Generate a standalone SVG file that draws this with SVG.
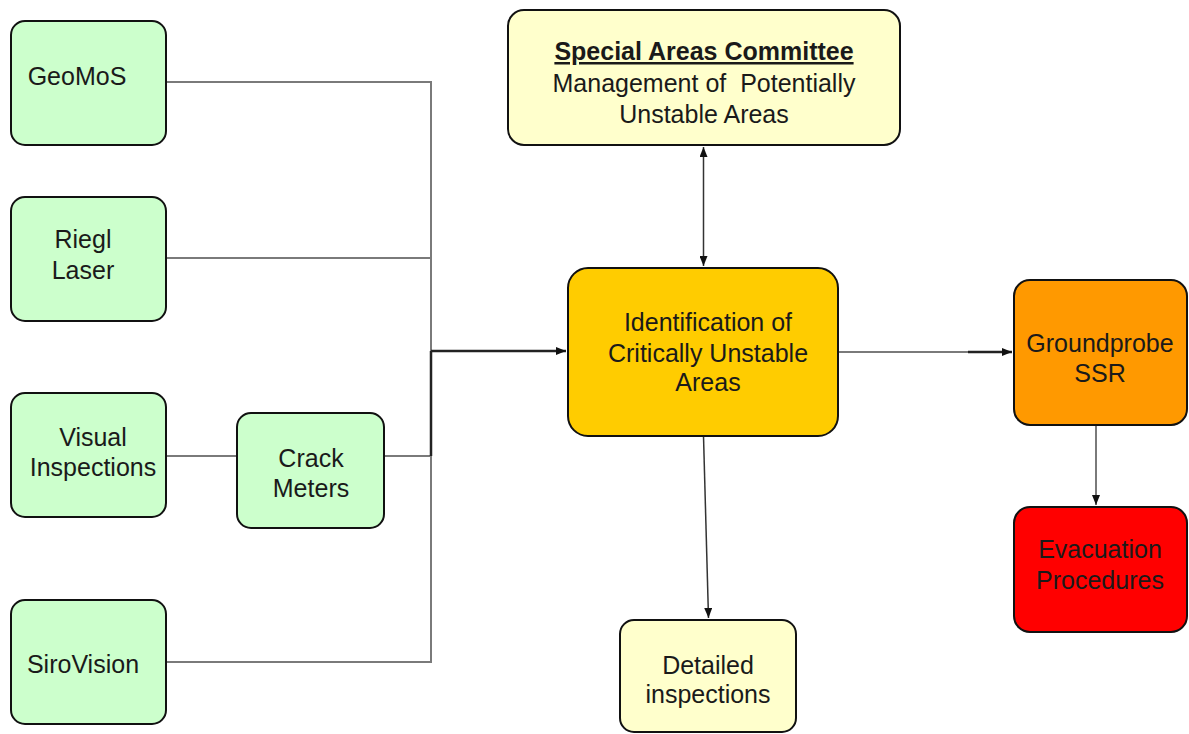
<svg xmlns="http://www.w3.org/2000/svg" width="1189" height="734" viewBox="0 0 1189 734">
<style>
  .box { stroke: #111; stroke-width: 2; }
  .green { fill: #CCFFCC; }
  .cream { fill: #FFFFCC; }
  .gold { fill: #FFCC00; }
  .orange { fill: #FF9900; }
  .red { fill: #FF0000; }
  text { font-family: "Liberation Sans", Arial, sans-serif; font-size: 25px; fill: #1a1a1a; text-anchor: middle; }
  .bold { font-weight: bold; text-decoration: underline; }
  .gray { stroke: #7a7a7a; stroke-width: 2; fill: none; }
  .dark { stroke: #222; stroke-width: 2.5; fill: none; }
  .thin { stroke: #333; stroke-width: 1.5; fill: none; }
</style>
<defs>
  <marker id="arr" viewBox="0 0 10 8" refX="10" refY="4" markerWidth="10" markerHeight="8" markerUnits="userSpaceOnUse" orient="auto-start-reverse">
    <path d="M0,0 L10,4 L0,8 z" fill="#111"/>
  </marker>
</defs>
<rect width="1189" height="734" fill="#ffffff"/>

<g id="connectors">
  <path class="gray" d="M166,82 H431 V662 H166"/>
  <path class="gray" d="M166,258 H431"/>
  <path class="gray" d="M166,456 H237"/>
  <path class="gray" d="M384,456 H431"/>
  <path class="dark" d="M431,351 V456"/>
  <path class="dark" d="M431,351 H566" marker-end="url(#arr)"/>
  <path class="thin" d="M703.5,147 V266" marker-start="url(#arr)" marker-end="url(#arr)"/>
  <path class="gray" d="M838,352 H975"/>
  <path class="dark" d="M968,352 H1012" marker-end="url(#arr)"/>
  <path class="thin" d="M703.5,436 L708.5,618" marker-end="url(#arr)"/>
  <path class="gray" d="M1096,425 V505" marker-end="url(#arr)"/>
</g>

<g id="geomos">
  <rect class="box green" x="11" y="21" width="155" height="124" rx="14"/>
  <text x="77" y="85">GeoMoS</text>
</g>
<g id="riegl">
  <rect class="box green" x="11" y="197" width="155" height="124" rx="14"/>
  <text x="83" y="248">Riegl</text>
  <text x="83" y="279">Laser</text>
</g>
<g id="visual">
  <rect class="box green" x="11" y="393" width="155" height="124" rx="14"/>
  <text x="93" y="446">Visual</text>
  <text x="93" y="476">Inspections</text>
</g>
<g id="crack">
  <rect class="box green" x="237" y="413" width="147" height="115" rx="14"/>
  <text x="311" y="467">Crack</text>
  <text x="311" y="497">Meters</text>
</g>
<g id="sirovision">
  <rect class="box green" x="11" y="600" width="155" height="124" rx="14"/>
  <text x="83" y="673">SiroVision</text>
</g>
<g id="committee">
  <rect class="box cream" x="508" y="10" width="392" height="135" rx="16"/>
  <text class="bold" x="704" y="60">Special Areas Committee</text>
  <text x="704" y="92">Management of&#160; Potentially</text>
  <text x="704" y="123">Unstable Areas</text>
</g>
<g id="identification">
  <rect class="box gold" x="568" y="268" width="270" height="168" rx="20"/>
  <text x="708" y="331">Identification of</text>
  <text x="708" y="362">Critically Unstable</text>
  <text x="708" y="391">Areas</text>
</g>
<g id="groundprobe">
  <rect class="box orange" x="1014" y="280" width="173" height="145" rx="16"/>
  <text x="1100" y="352">Groundprobe</text>
  <text x="1100" y="382">SSR</text>
</g>
<g id="evacuation">
  <rect class="box red" x="1014" y="507" width="173" height="125" rx="16"/>
  <text x="1100" y="558">Evacuation</text>
  <text x="1100" y="589">Procedures</text>
</g>
<g id="detailed">
  <rect class="box cream" x="620" y="620" width="176" height="112" rx="14"/>
  <text x="708" y="674">Detailed</text>
  <text x="708" y="703">inspections</text>
</g>
</svg>
